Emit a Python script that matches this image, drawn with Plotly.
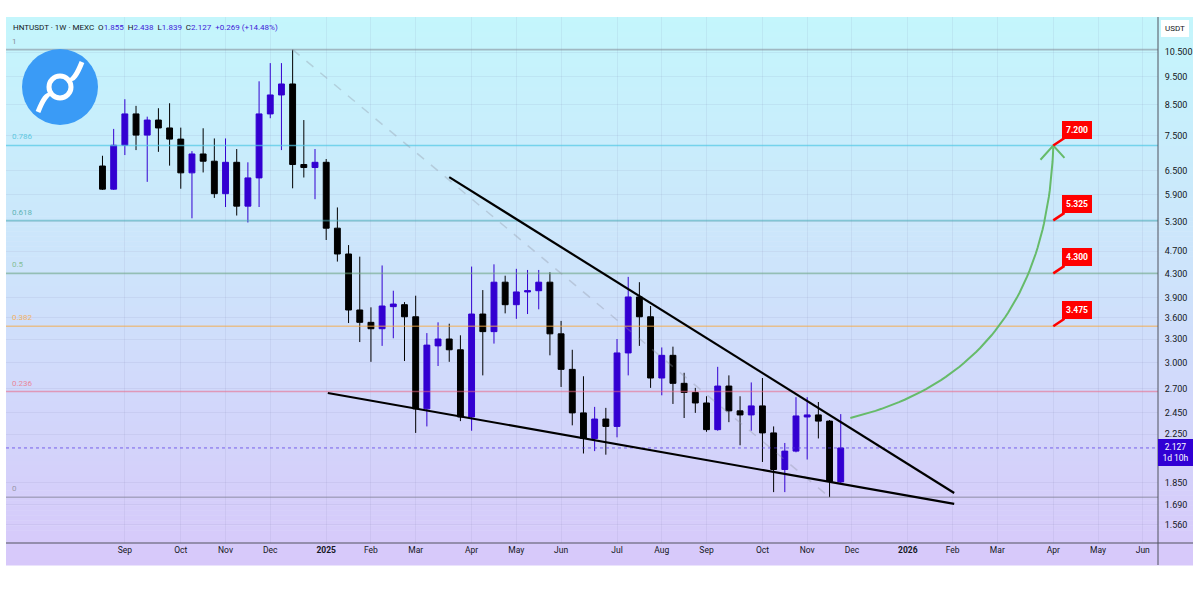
import math
import pandas as pd
import plotly.graph_objects as go

# ---------------- data ----------------
weeks = pd.date_range("2024-08-19", periods=67, freq="7D")
opens = [6.63, 6.04, 7.21, 8.18, 7.51, 7.98, 7.73, 7.39, 6.45, 6.96, 6.76, 5.93, 6.73, 5.64, 6.32, 8.18, 8.83,
         9.23, 6.67, 6.59, 6.73, 5.16, 4.65, 3.71, 3.53, 3.44, 3.76, 3.79, 3.61, 2.49, 3.21, 3.30, 3.16, 2.41,
         3.65, 3.40, 4.15, 3.79, 3.99, 4.01, 4.15, 3.37, 2.92, 2.45, 2.21, 2.39, 2.32, 3.12, 3.91, 3.61, 2.82,
         3.09, 2.76, 2.66, 2.55, 2.29, 2.73, 2.47, 2.43, 2.52, 2.26, 1.95, 2.10, 2.41, 2.43, 2.37, 1.855]
highs = [6.91, 7.70, 8.68, 8.45, 8.09, 8.37, 8.54, 7.74, 7.04, 7.72, 7.41, 7.41, 7.10, 6.73, 9.33, 10.04, 10.04,
         10.60, 7.98, 7.10, 6.82, 5.61, 4.82, 4.60, 3.75, 4.44, 4.01, 3.83, 3.93, 3.38, 3.53, 3.51, 3.35, 4.42,
         4.02, 4.46, 4.26, 4.38, 4.36, 4.36, 4.32, 3.55, 3.16, 2.84, 2.51, 2.50, 3.30, 4.24, 4.15, 3.77, 3.19,
         3.20, 2.88, 2.71, 2.62, 2.95, 2.85, 2.62, 2.77, 2.82, 2.32, 2.17, 2.61, 2.61, 2.56, 2.38, 2.438]
lows = [6.02, 6.02, 6.93, 7.07, 6.22, 7.02, 6.64, 6.05, 5.37, 6.46, 5.83, 5.62, 5.43, 5.28, 5.62, 8.04, 7.07,
        6.06, 6.33, 5.80, 4.92, 4.51, 3.52, 3.26, 3.01, 3.21, 3.31, 3.02, 2.26, 2.32, 2.96, 3.01, 2.37, 2.28,
        2.85, 3.24, 3.66, 3.58, 3.65, 3.72, 3.09, 2.72, 2.33, 2.08, 2.10, 2.07, 2.22, 2.85, 3.21, 2.71, 2.63,
        2.54, 2.40, 2.45, 2.27, 2.28, 2.36, 2.15, 2.28, 2.01, 1.78, 1.78, 2.09, 2.03, 2.21, 1.744, 1.839]
closes = [6.04, 7.21, 8.18, 7.51, 7.98, 7.73, 7.39, 6.45, 6.96, 6.76, 5.93, 6.73, 5.64, 6.32, 8.18, 8.83, 9.23,
          6.67, 6.59, 6.73, 5.16, 4.65, 3.71, 3.53, 3.44, 3.77, 3.80, 3.61, 2.49, 3.22, 3.30, 3.16, 2.41, 3.65,
          3.40, 4.15, 3.79, 3.99, 4.01, 4.15, 3.37, 2.92, 2.45, 2.21, 2.39, 2.32, 3.12, 3.91, 3.61, 2.82, 3.09,
          2.76, 2.66, 2.55, 2.29, 2.73, 2.47, 2.43, 2.52, 2.26, 1.95, 2.10, 2.42, 2.43, 2.37, 1.858, 2.127]

y_ticks = [10.5, 9.5, 8.5, 7.5, 6.5, 5.9, 5.3, 4.7, 4.3, 3.9, 3.6, 3.3, 3.0, 2.7, 2.45, 2.25, 1.85, 1.69, 1.56]
x_tick_dates = ["2024-09-02", "2024-10-07", "2024-11-04", "2024-12-02", "2025-01-06", "2025-02-03",
                "2025-03-03", "2025-04-07", "2025-05-05", "2025-06-02", "2025-07-07", "2025-08-04",
                "2025-09-01", "2025-10-06", "2025-11-03", "2025-12-01", "2026-01-05", "2026-02-02",
                "2026-03-02", "2026-04-06", "2026-05-04", "2026-06-01"]
x_tick_labels = ["Sep", "Oct", "Nov", "Dec", "<b>2025</b>", "Feb", "Mar", "Apr", "May", "Jun", "Jul", "Aug",
                 "Sep", "Oct", "Nov", "Dec", "<b>2026</b>", "Feb", "Mar", "Apr", "May", "Jun"]

fib_high_date, fib_high = "2024-12-16", 10.60
fib_low_date, fib_low = "2025-11-17", 1.744
fib_ratios = [1, 0.786, 0.618, 0.5, 0.382, 0.236, 0]
fib_labels = ["1", "0.786", "0.618", "0.5", "0.382", "0.236", "0"]
fib_colors = ["rgba(130,134,146,0.55)", "rgba(80,200,230,0.7)", "rgba(70,170,180,0.55)",
              "rgba(110,170,130,0.55)", "rgba(245,170,70,0.6)", "rgba(235,100,130,0.55)",
              "rgba(130,130,150,0.55)"]

targets = [7.200, 5.325, 4.300, 3.475]
target_date = "2026-04-06"

upper_trend_dates, upper_trend_prices = ["2025-03-24", "2026-02-03"], [6.34, 1.774]
lower_trend_dates, lower_trend_prices = ["2025-01-07", "2026-02-03"], [2.655, 1.697]

curve_dates = ["2025-11-30", "2026-04-01", "2026-04-06"]   # start, control, end
curve_prices = [2.40, 2.91, 7.15]
arrow_dates = ["2026-03-29", "2026-04-06", "2026-04-13"]
arrow_prices = [6.80, 7.20, 6.85]

last_price = 2.127
x_range = ["2024-06-19 15:00", "2026-06-10 13:00"]
y_range_log = [0.1613, 1.0825]

# ---------------- layout helpers ----------------
L, T, Rp, B = 6, 17, 1158, 543
W, H = Rp - L, B - T


def px(x):
    return (x - L) / W


def py(y):
    return (B - y) / H


UP = "#3300d1"
DOWN = "#000000"
BLUE_TXT = "#3f22d8"
FONT = "Roboto, Liberation Sans, sans-serif"

fig = go.Figure()

# fib lines (behind candles)
lnl, lnh = math.log(fib_low), math.log(fib_high)
fib_prices = [math.exp(lnl + r * (lnh - lnl)) for r in fib_ratios]
for p, c in zip(fib_prices, fib_colors):
    fig.add_trace(go.Scatter(x=x_range, y=[p, p], mode="lines", line=dict(color=c, width=1.6),
                             hoverinfo="skip", showlegend=False))

# dashed diagonal of fib
fig.add_trace(go.Scatter(x=[fib_high_date, fib_low_date], y=[fib_high, fib_low], mode="lines",
                         line=dict(color="rgba(140,145,160,0.35)", width=1.5, dash="dash"),
                         hoverinfo="skip", showlegend=False))

# last price dotted line
fig.add_trace(go.Scatter(x=x_range, y=[last_price, last_price], mode="lines",
                         line=dict(color="rgba(80,50,230,0.7)", width=1, dash="dot"),
                         hoverinfo="skip", showlegend=False))

# candles
fig.add_trace(go.Candlestick(
    x=weeks, open=opens, high=highs, low=lows, close=closes,
    increasing=dict(line=dict(color=UP, width=1), fillcolor=UP),
    decreasing=dict(line=dict(color=DOWN, width=1), fillcolor=DOWN),
    whiskerwidth=0, hoverinfo="skip", showlegend=False))

# trend lines
fig.add_trace(go.Scatter(x=upper_trend_dates, y=upper_trend_prices, mode="lines",
                         line=dict(color="#000000", width=2.2), hoverinfo="skip", showlegend=False))
fig.add_trace(go.Scatter(x=lower_trend_dates, y=lower_trend_prices, mode="lines",
                         line=dict(color="#000000", width=2.2), hoverinfo="skip", showlegend=False))

# green curved arrow (quadratic bezier in date / log-price space)
ct = [pd.Timestamp(d).value for d in curve_dates]
cl = [math.log(p) for p in curve_prices]
bx, by = [], []
n = 60
for i in range(n + 1):
    t = i / n
    a, b_, c_ = (1 - t) ** 2, 2 * t * (1 - t), t ** 2
    bx.append(pd.Timestamp(int(a * ct[0] + b_ * ct[1] + c_ * ct[2])))
    by.append(math.exp(a * cl[0] + b_ * cl[1] + c_ * cl[2]))
fig.add_trace(go.Scatter(x=bx, y=by, mode="lines", line=dict(color="#66bb6a", width=2),
                         hoverinfo="skip", showlegend=False))
fig.add_trace(go.Scatter(x=arrow_dates, y=arrow_prices, mode="lines", line=dict(color="#66bb6a", width=2),
                         hoverinfo="skip", showlegend=False))

shapes = []
# gradient background
top_c = (196, 246, 252)
mid_c = (206, 226, 251)
bot_c = (215, 200, 250)
y_top, y_bot = 17, 565
nb = 110
for i in range(nb):
    f = (i + 0.5) / nb
    if f < 0.5:
        g = f / 0.5
        col = [top_c[k] + (mid_c[k] - top_c[k]) * g for k in range(3)]
    else:
        g = (f - 0.5) / 0.5
        col = [mid_c[k] + (bot_c[k] - mid_c[k]) * g for k in range(3)]
    ya = y_top + (y_bot - y_top) * i / nb
    yb = y_top + (y_bot - y_top) * (i + 1) / nb + 0.6
    shapes.append(dict(type="rect", xref="paper", yref="paper", x0=px(6), x1=px(1193),
                       y0=py(yb), y1=py(ya), line=dict(width=0),
                       fillcolor="rgb(%d,%d,%d)" % tuple(int(round(v)) for v in col), layer="below"))
# pane divider lines
shapes.append(dict(type="line", xref="paper", yref="paper", x0=1, x1=1, y0=py(565), y1=py(17),
                   line=dict(color="#50535e", width=1)))
shapes.append(dict(type="line", xref="paper", yref="paper", x0=0, x1=px(1193), y0=0, y1=0,
                   line=dict(color="#50535e", width=1)))
# logo
shapes.append(dict(type="circle", xref="paper", yref="paper", x0=px(22), x1=px(98), y0=py(125), y1=py(49),
                   fillcolor="#3a9bf6", line=dict(width=0)))
shapes.append(dict(type="circle", xref="paper", yref="paper", x0=px(49), x1=px(71), y0=py(98), y1=py(76),
                   fillcolor="rgba(0,0,0,0)", line=dict(color="white", width=5)))
shapes.append(dict(type="path", xref="paper", yref="paper",
                   path="M %f %f Q %f %f %f %f" % (px(38), py(112), px(46), py(92), px(50), py(96)),
                   line=dict(color="white", width=5)))
shapes.append(dict(type="path", xref="paper", yref="paper",
                   path="M %f %f Q %f %f %f %f" % (px(82), py(62), px(74), py(82), px(70), py(78)),
                   line=dict(color="white", width=5)))

annotations = []
# header
hdr = ("HNTUSDT · 1W · MEXC&nbsp;&nbsp;O<span style='color:%s'>1.855</span>&nbsp;&nbsp;"
       "H<span style='color:%s'>2.438</span>&nbsp;&nbsp;L<span style='color:%s'>1.839</span>&nbsp;&nbsp;"
       "C<span style='color:%s'>2.127</span>&nbsp;&nbsp;<span style='color:%s'>+0.269 (+14.48%%)</span>"
       % (BLUE_TXT, BLUE_TXT, BLUE_TXT, BLUE_TXT, BLUE_TXT))
annotations.append(dict(xref="paper", yref="paper", x=px(11), y=py(27), xanchor="left", yanchor="middle",
                        text=hdr, showarrow=False, font=dict(size=8, color="#131722")))
# fib labels
lab_cols = ["#8a8d98", "#5ec8e0", "#5fb4b6", "#86bf98", "#f2b266", "#e8889c", "#9a98aa"]
for p, lab, c in zip(fib_prices, fib_labels, lab_cols):
    annotations.append(dict(xref="paper", yref="y", x=px(10), y=math.log10(p), xanchor="left",
                            yanchor="bottom", yshift=2, text=lab, showarrow=False,
                            font=dict(size=8, color=c)))
# target callouts
for tv in targets:
    annotations.append(dict(x=target_date, y=math.log10(tv), xref="x", yref="y", text="<b>%.3f</b>" % tv,
                            showarrow=True, arrowhead=0, arrowwidth=2.5, arrowcolor="#ff0000",
                            ax=24, ay=-16, bgcolor="#ff0000", bordercolor="#ff0000", borderpad=3,
                            font=dict(size=8.5, color="white"), standoff=0))
# last price label
annotations.append(dict(xref="paper", yref="y", x=1, y=math.log10(last_price), xanchor="left",
                        yanchor="middle", yshift=-5, text="2.127<br>1d 10h", showarrow=False,
                        bgcolor="#3100d4", bordercolor="#3100d4", borderpad=2, align="center", width=29,
                        font=dict(size=8.5, color="white")))
# currency box
annotations.append(dict(xref="paper", yref="paper", x=px(1175), y=py(28), xanchor="center",
                        yanchor="middle", text="USDT", showarrow=False, bgcolor="white",
                        bordercolor="white", borderpad=3, font=dict(size=8, color="#131722")))

fig.update_layout(
    width=1200, height=600,
    margin=dict(l=L, r=1200 - Rp, t=T, b=600 - B),
    paper_bgcolor="white", plot_bgcolor="rgba(0,0,0,0)",
    font=dict(family=FONT, size=8.5, color="#131722"),
    shapes=shapes, annotations=annotations, boxgap=0.25,
    xaxis=dict(type="date", range=x_range, tickvals=x_tick_dates, ticktext=x_tick_labels,
               showgrid=True, gridcolor="rgba(120,120,170,0.10)", ticks="", zeroline=False,
               rangeslider=dict(visible=False), tickfont=dict(size=8.5, color="#131722"), fixedrange=True),
    yaxis=dict(type="log", side="right", range=y_range_log, tickvals=y_ticks, tickformat=".3f",
               showgrid=True, gridcolor="rgba(120,120,170,0.10)", ticks="outside", ticklen=4,
               tickcolor="rgba(0,0,0,0)", zeroline=False, tickfont=dict(size=9, color="#131722"),
               fixedrange=True),
    showlegend=False,
)

fig.write_html("out.html", config={"displayModeBar": False},
               post_script="document.body.style.margin='0px';")
